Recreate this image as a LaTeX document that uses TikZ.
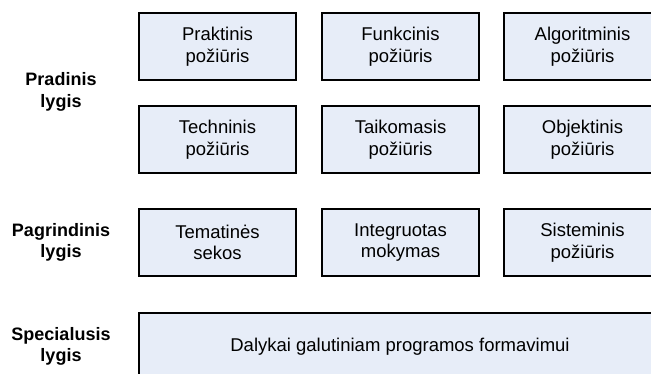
\documentclass[tikz,border=0pt]{standalone}
\usepackage{fontspec}
\setmainfont{Liberation Sans}
\usetikzlibrary{shadows}
\definecolor{boxfill}{HTML}{E7EDF8}
\begin{document}
\begin{tikzpicture}[x=1pt,y=-1pt,
  box/.style={draw=black, line width=1.8pt, fill=boxfill, inner sep=0pt,
    minimum width=157pt, minimum height=67pt, align=center,
    font=\fontsize{18.5}{21.5}\selectfont,
    drop shadow={shadow xshift=1.2pt, shadow yshift=-1.2pt, fill=black, opacity=1}},
  lvl/.style={align=center, font=\fontsize{18}{21.5}\selectfont\bfseries}]
\useasboundingbox (0,0) rectangle (651,373);
\clip (0,0) rectangle (651,373);
\node[box] (p1) at (217.5,46.5) {Praktinis\\požiūris};
\node[box] (p2) at (400.5,46.5) {Funkcinis\\požiūris};
\node[box] (p3) at (582.5,46.5) {Algoritminis\\požiūris};
\node[box] (t1) at (217.5,139.5) {Techninis\\požiūris};
\node[box] (t2) at (400.5,139.5) {Taikomasis\\požiūris};
\node[box] (t3) at (582.5,139.5) {Objektinis\\požiūris};
\node[box] (s1) at (217.5,242.5) {Tematinės\\sekos};
\node[box] (s2) at (400.5,242.5) {Integruotas\\mokymas};
\node[box] (s3) at (582.5,242.5) {Sisteminis\\požiūris};
\node[box, minimum width=522pt] (d) at (400,346.5) {Dalykai galutiniam programos formavimui};
\node[lvl] (l1) at (61,92) {Pradinis\\lygis};
\node[lvl] (l2) at (61,242.5) {Pagrindinis\\lygis};
\node[lvl] (l3) at (61,346.5) {Specialusis\\lygis};
\end{tikzpicture}
\end{document}
